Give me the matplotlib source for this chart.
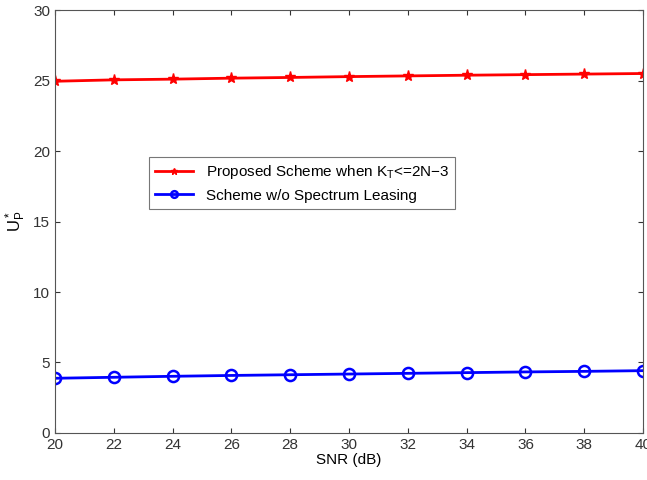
import numpy as np
import matplotlib.pyplot as plt

plt.rcParams['font.family'] = ['Liberation Sans', 'DejaVu Sans']
plt.rcParams['mathtext.default'] = 'regular'

snr = [20, 22, 24, 26, 28, 30, 32, 34, 36, 38, 40]
proposed = [24.95, 25.05, 25.1, 25.17, 25.22, 25.28, 25.33, 25.38, 25.42, 25.46, 25.5]
no_leasing = [3.88, 3.95, 4.02, 4.08, 4.13, 4.18, 4.23, 4.28, 4.33, 4.37, 4.42]

fig = plt.figure(figsize=(6.47, 4.8), dpi=100)
ax = fig.add_axes([0.085, 0.098, 0.909, 0.881])

ax.plot(snr, proposed, color='red', lw=2, marker='*', ms=8,
        label='Proposed Scheme when K$_T$<=2N\u22123')
ax.plot(snr, no_leasing, color='blue', lw=2, marker='o', ms=8, mfc='none', mew=1.8,
        label='Scheme w/o Spectrum Leasing')

ax.set_xlim(20, 40)
ax.set_ylim(0, 30)
ax.set_xticks(snr)
ax.set_yticks(np.arange(0, 31, 5))
ax.tick_params(direction='in', top=True, right=True, labelsize=11, colors='#333333')
for s in ax.spines.values():
    s.set_color('#555555')
ax.set_xlabel('SNR (dB)', fontsize=11, labelpad=1)
ax.set_ylabel('$U_P^*$', fontsize=12)

leg = ax.legend(loc='lower left', bbox_to_anchor=(0.16, 0.53), fontsize=11,
                fancybox=False, edgecolor='#555555', borderaxespad=0,
                handlelength=2.5, markerscale=0.6)
leg.get_frame().set_linewidth(0.8)

fig.savefig('out.png', dpi=100)
